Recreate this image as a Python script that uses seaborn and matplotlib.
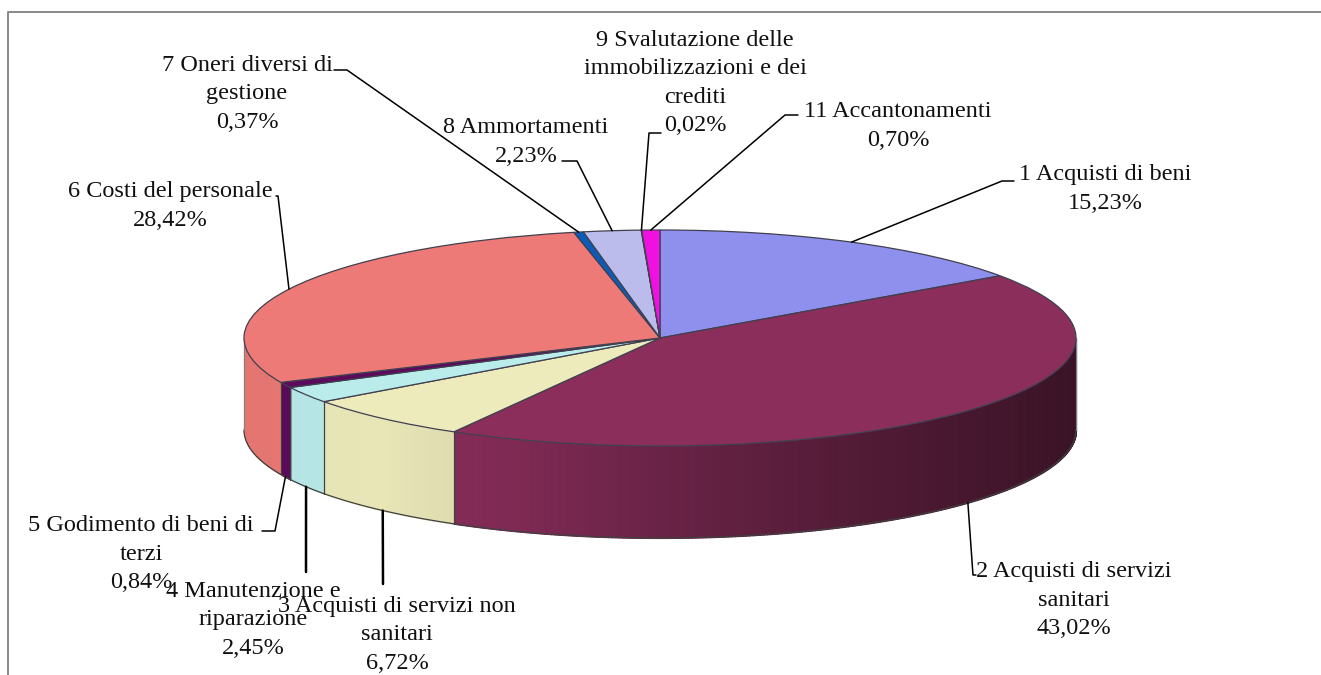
import numpy as np
import matplotlib
matplotlib.use("Agg")
import matplotlib.pyplot as plt
import seaborn as sns

# -------------------------------
# data
# -------------------------------
names = ["1 Acquisti di beni", "2 Acquisti di servizi\nsanitari",
         "3 Acquisti di servizi non\nsanitari", "4 Manutenzione e\nriparazione",
         "5 Godimento di beni di\nterzi", "6 Costi del personale",
         "7 Oneri diversi di\ngestione", "8 Ammortamenti",
         "9 Svalutazione delle\nimmobilizzazioni e dei\ncrediti", "11 Accantonamenti"]
shares = [15.23, 43.02, 6.72, 2.45, 0.84, 28.42, 0.37, 2.23, 0.02, 0.70]
share_labels = ["15,23%", "43,02%", "6,72%", "2,45%", "0,84%", "28,42%", "0,37%", "2,23%", "0,02%", "0,70%"]
slice_colors = ["#8F8FEE", "#8B2E5C", "#EDEBBB", "#BBECEC", "#5C0A5C",
                "#ED7A76", "#0A5CB8", "#BBBBEC", "#E8E8F8", "#F010E0"]

# -------------------------------
# layout (pixels)
# -------------------------------
W, H = 1321, 675
cx, cy, rx, ry, depth = 660, 338, 416, 108, 92
label_xy = [(1105, 189), (1074, 600), (397, 635), (253, 620), (141, 554),
            (170, 206), (247, 94), (526, 142), (695, 83), (898, 126)]
# elbow and end of each leader line, after the anchor on the pie
leader_pts = [[(1002, 181), (1014, 181)], [(973, 575), (976, 575)], [(383, 584)], [(306, 572)],
              [(275, 531), (262, 531)], [(278, 196), (276, 196)], [(347, 70), (334, 70)],
              [(577, 161), (562, 161)], [(649, 133), (661, 133)], [(785, 115), (798, 115)]]
leader_lw = [1.1, 1.1, 1.8, 1.8, 1.1, 1.1, 1.1, 1.1, 1.1, 1.1]

sns.set_theme(style="white")
plt.rcParams["font.family"] = ["Liberation Serif", "DejaVu Serif"]
palette = sns.color_palette(slice_colors)

fig = plt.figure(figsize=(W / 100, H / 100), dpi=100)
ax = fig.add_axes([0, 0, 1, 1])

# -------------------------------
# side wall, shaded from left to right
# -------------------------------
edges = 90 - np.cumsum([0] + shares) * 3.6
wall_h = depth / ry


def shade(x):
    return np.interp(x, [-1, -0.67, -0.5, -0.32, 0.0, 0.5, 1], [0.96, 0.98, 0.94, 0.90, 0.76, 0.58, 0.42])


for i, color in enumerate(palette):
    # front half of the disc only
    a1, a0 = edges[i], edges[i + 1]
    lo, hi = max(a0, -180), min(a1, 0)
    if lo >= hi:
        continue
    theta = np.linspace(lo, hi, max(int((hi - lo) * 2), 2) + 1)
    for t0, t1 in zip(theta[:-1], theta[1:]):
        seg = np.radians([t0, t1])
        xs, ys = np.cos(seg), np.sin(seg)
        c = np.clip(np.array(color) * shade(xs.mean()), 0, 1)
        ax.fill_between(xs, ys - wall_h, ys, facecolor=c, edgecolor=c, lw=0.8, antialiased=False, zorder=1)
    arc = np.radians(theta)
    ax.plot(np.cos(arc), np.sin(arc) - wall_h, color="#404040", lw=0.9, zorder=2)
    for t in (lo, hi):
        if t in (a0, a1):
            tx, ty = np.cos(np.radians(t)), np.sin(np.radians(t))
            ax.plot([tx, tx], [ty - wall_h, ty], color="#404040", lw=0.8, zorder=2)

for side in (-1, 1):
    ax.plot([side, side], [-wall_h, 0], color="#808080", lw=0.8, zorder=2)

# -------------------------------
# top of the pie
# -------------------------------
wedges, _ = ax.pie(shares, colors=palette, startangle=90, counterclock=False, radius=1,
                   wedgeprops={"edgecolor": "#404050", "linewidth": 0.9, "zorder": 3})
ax.set_aspect("auto")
ax.set_xlim(-cx / rx, (W - cx) / rx)
ax.set_ylim((cy - H) / ry, cy / ry)
ax.axis("off")

# -------------------------------
# overlay in pixels: frame, leaders, labels
# -------------------------------
over = fig.add_axes([0, 0, 1, 1], facecolor="none")
over.set_xlim(0, W)
over.set_ylim(H, 0)
over.axis("off")
over.plot([8, 8, W], [H, 12, 12], color="#808080", lw=1.3, clip_on=False)

mids = (np.cumsum([0] + shares)[:-1] + np.array(shares) / 2) * 3.6
for i, name in enumerate(names):
    a = np.radians(mids[i])
    ax_x = cx + rx * np.sin(a)
    ax_y = cy - ry * np.cos(a)
    if np.cos(a) < 0:
        ax_y += depth
    px = [ax_x] + [p[0] for p in leader_pts[i]]
    py = [ax_y] + [p[1] for p in leader_pts[i]]
    over.plot(px, py, color="black", lw=leader_lw[i], zorder=5)
    over.text(label_xy[i][0], label_xy[i][1], name + "\n" + share_labels[i], ha="center", va="center",
              fontsize=17.5, linespacing=1.44, color="#101010", zorder=6)

fig.savefig("out.png", dpi=100)
